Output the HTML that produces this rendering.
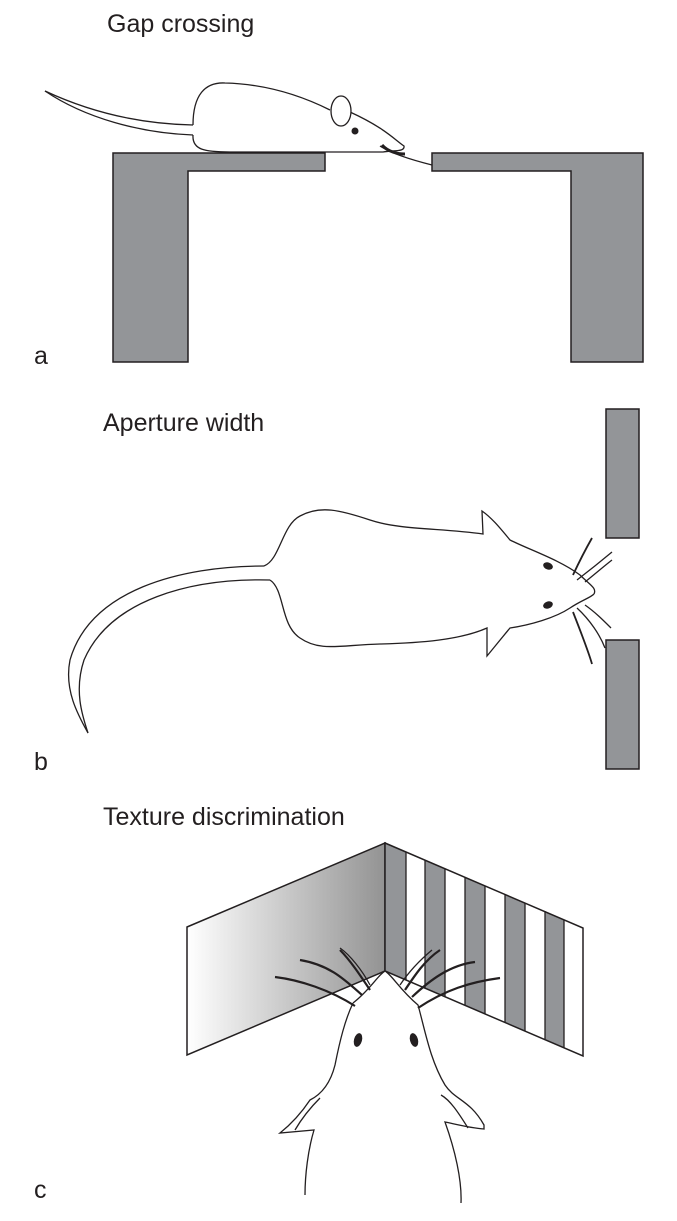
<!DOCTYPE html>
<html><head><meta charset="utf-8"><style>
html,body{margin:0;padding:0;background:#fff;}
svg{display:block;}
text{font-family:"Liberation Sans",Arial,sans-serif;fill:#231f20;}
</style></head><body>
<svg width="677" height="1221" viewBox="0 0 677 1221" xmlns="http://www.w3.org/2000/svg">
<defs>
<linearGradient id="g" x1="0" x2="1" y1="0" y2="0">
<stop offset="0" stop-color="#ffffff"/><stop offset="1" stop-color="#939393"/>
</linearGradient>
</defs>
<!-- Panel a -->
<text x="107" y="32" font-size="25">Gap crossing</text>
<text x="34" y="364" font-size="25">a</text>
<path d="M113,153 H325 V171 H188 V362 H113 Z" fill="#939598" stroke="#231f20" stroke-width="1.5"/>
<path d="M432,153 H643 V362 H571 V171 H432 Z" fill="#939598" stroke="#231f20" stroke-width="1.5"/>
<g fill="none" stroke="#231f20" stroke-width="1.3">
<path d="M45,91 C90,112 140,124 193,125"/>
<path d="M45,91 C85,118 140,133 193,135"/>
<path d="M193,125 C193,95 205,82 225,83 C265,84 300,95 330,110"/>
<path d="M193,135 C192,150 205,152 230,152 L383,152 C395,150 405,152 404,146 C395,140 385,128 350,112"/>
<ellipse cx="341" cy="111" rx="10" ry="15" fill="#fff"/>
<path d="M380,146 C392,154 412,160 432,165"/>
<path d="M382,145 C388,152 398,154 405,154" stroke-width="3"/>
</g>
<circle cx="355" cy="131" r="3.5" fill="#231f20"/>
<!-- Panel b -->
<text x="103" y="431" font-size="25">Aperture width</text>
<text x="34" y="770" font-size="25">b</text>
<rect x="606" y="409" width="33" height="129" fill="#939598" stroke="#231f20" stroke-width="1.5"/>
<rect x="606" y="640" width="33" height="129" fill="#939598" stroke="#231f20" stroke-width="1.5"/>
<g fill="none" stroke="#231f20" stroke-width="1.3">
<path d="M264,566 C280,560 282,525 300,516 C320,505 340,510 370,520 C400,530 440,528 483,534 L482,511 C492,518 500,528 510,540 C530,550 560,560 580,575 C590,585 597,588 594,594"/>
<path d="M270,580 C285,590 280,625 300,638 C320,652 340,645 380,644 C420,643 460,640 487,628 L487,656 C492,650 500,640 510,628 C530,625 555,618 570,608 C582,600 590,598 594,594"/>
<path d="M264,566 C180,566 90,590 70,660 C64,690 78,715 88,733"/>
<path d="M270,580 C190,578 110,600 84,660 C74,690 82,715 88,733"/>
<path d="M573,575 C580,560 588,545 592,538" stroke-width="1.8"/>
<path d="M577,580 C590,570 600,562 612,552"/>
<path d="M585,582 C595,574 603,567 612,560"/>
<path d="M573,612 C580,630 588,650 592,664" stroke-width="1.8"/>
<path d="M577,608 C590,620 600,635 605,648"/>
<path d="M585,605 C595,612 603,620 611,628"/>
</g>
<ellipse cx="548" cy="566" rx="5" ry="3.5" fill="#231f20" transform="rotate(20 548 566)"/>
<ellipse cx="548" cy="605" rx="5" ry="3.5" fill="#231f20" transform="rotate(-20 548 605)"/>
<!-- Panel c -->
<text x="103" y="825" font-size="25">Texture discrimination</text>
<text x="34" y="1198" font-size="25">c</text>
<polygon points="187,927 385,843 385,971 187,1055" fill="url(#g)" stroke="#231f20" stroke-width="1.5"/>
<polygon points="385,843 583,928 583,1056 385,971" fill="#fff"/>
<g fill="#939598">
<polygon points="385,843 406,852 406,980 385,971"/>
<polygon points="425,860 445,869 445,997 425,988"/>
<polygon points="465,877 485,886 485,1014 465,1005"/>
<polygon points="505,894 525,903 525,1031 505,1022"/>
<polygon points="545,911 564,920 564,1048 545,1039"/>
</g>
<g stroke="#231f20" stroke-width="1.3">
<line x1="406" y1="852" x2="406" y2="980"/><line x1="425" y1="860" x2="425" y2="988"/>
<line x1="445" y1="869" x2="445" y2="997"/><line x1="465" y1="877" x2="465" y2="1005"/>
<line x1="485" y1="886" x2="485" y2="1014"/><line x1="505" y1="894" x2="505" y2="1022"/>
<line x1="525" y1="903" x2="525" y2="1031"/><line x1="545" y1="911" x2="545" y2="1039"/>
<line x1="564" y1="920" x2="564" y2="1048"/>
</g>
<polygon points="385,843 583,928 583,1056 385,971" fill="none" stroke="#231f20" stroke-width="1.5"/>
<path d="M353,1003 C370,990 378,975 385,971 C392,975 400,990 418,1005 C425,1030 430,1060 445,1085 C455,1100 470,1100 484,1125 L484,1129 L445,1122 C455,1150 462,1180 461,1203 L305,1195 C305,1170 310,1145 314,1130 L280,1133 C290,1120 300,1115 315,1098 C330,1080 335,1050 340,1030 Z" fill="#fff" stroke="none"/>
<g fill="none" stroke="#231f20" stroke-width="1.3">
<path d="M353,1003 C370,990 378,975 385,971 C392,975 400,990 418,1005 C425,1030 430,1060 445,1085 C455,1100 470,1100 484,1125 L484,1129 C470,1128 455,1124 445,1122 C455,1150 462,1180 461,1203"/>
<path d="M353,1003 C345,1020 340,1040 335,1065 C330,1085 320,1095 310,1100 C300,1115 290,1125 280,1133 L314,1130 C308,1150 305,1175 305,1195"/>
<path d="M441,1095 C450,1100 458,1112 468,1128"/>
<path d="M320,1098 C310,1108 302,1118 295,1130"/>
<g stroke-width="2.2">
<path d="M355,1006 C330,990 300,980 275,977"/>
<path d="M362,995 C345,980 330,965 300,960"/>
<path d="M370,990 C360,975 350,960 340,950"/>
<path d="M418,1008 C445,990 470,982 500,978"/>
<path d="M412,997 C430,980 450,965 475,962"/>
<path d="M405,990 C415,975 425,960 440,950"/>
</g>
<path d="M370,985 C362,970 350,955 340,948"/>
<path d="M400,985 C410,970 420,960 432,950"/>
</g>
<ellipse cx="358" cy="1040" rx="4" ry="7" fill="#231f20" transform="rotate(15 358 1040)"/>
<ellipse cx="414" cy="1040" rx="4" ry="7" fill="#231f20" transform="rotate(-15 414 1040)"/>
</svg>
</body></html>
